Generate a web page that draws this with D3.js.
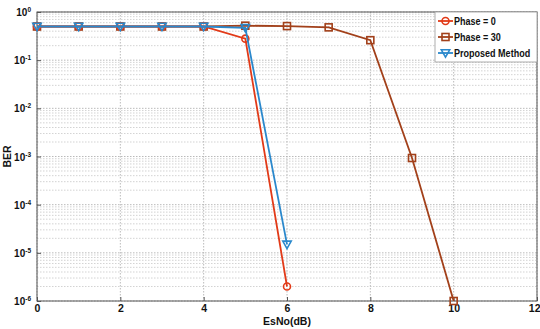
<!DOCTYPE html>
<html>
<head>
<script src="https://d3js.org/d3.v7.min.js"></script>
<style>
  body { margin: 0; background: #fff; }
  text { font-family: "Liberation Sans", Arial, sans-serif; font-weight: bold; }
</style>
</head>
<body>
<div id="chart"></div>
<script>
// data
var xs0 = [0, 1, 2, 3, 4, 5, 6]
var phase0 = [0.5, 0.5, 0.5, 0.5, 0.5, 0.28, 2e-6]
var xs30 = [0, 1, 2, 3, 4, 5, 6, 7, 8, 9, 10]
var phase30 = [0.5, 0.5, 0.5, 0.5, 0.5, 0.52, 0.51, 0.48, 0.26, 9.3e-4, 1e-6]
var xsProp = [0, 1, 2, 3, 4, 5, 6]
var proposed = [0.5, 0.5, 0.5, 0.5, 0.5, 0.47, 1.5e-5]
var xTicks = [0, 2, 4, 6, 8, 10, 12]
var yExps = [0, -1, -2, -3, -4, -5, -6]

var W = 540, H = 329
var margin = {top: 12, right: 3, bottom: 28, left: 37}
var width = W - margin.left - margin.right
var height = H - margin.top - margin.bottom

var svg = d3.select("#chart").append("svg")
  .attr("width", W).attr("height", H)
var g = svg.append("g")
  .attr("transform", "translate(" + margin.left + "," + margin.top + ")")

var x = d3.scaleLinear().domain([0, 12]).range([0, width])
var y = d3.scaleLog().domain([1e-6, 1]).range([height, 0])

// minor grid
var minor = []
for (var e = -6; e < 0; e++) for (var m = 2; m <= 9; m++) minor.push(m * Math.pow(10, e))
g.selectAll(".minor").data(minor).enter().append("line")
  .attr("x1", 0).attr("x2", width)
  .attr("y1", function(d) { return y(d) }).attr("y2", function(d) { return y(d) })
  .attr("stroke", "#c8c8c8").attr("stroke-width", 0.8).attr("stroke-dasharray", "1.5,1.5")

// major grid
g.selectAll(".gy").data(yExps).enter().append("line")
  .attr("x1", 0).attr("x2", width)
  .attr("y1", function(d) { return y(Math.pow(10, d)) }).attr("y2", function(d) { return y(Math.pow(10, d)) })
  .attr("stroke", "#a8a8a8").attr("stroke-width", 0.8).attr("stroke-dasharray", "1.5,1.5")
g.selectAll(".gx").data(xTicks).enter().append("line")
  .attr("x1", function(d) { return x(d) }).attr("x2", function(d) { return x(d) })
  .attr("y1", 0).attr("y2", height)
  .attr("stroke", "#a8a8a8").attr("stroke-width", 0.8).attr("stroke-dasharray", "1.5,1.5")

// frame
g.append("rect").attr("width", width).attr("height", height)
  .attr("fill", "none").attr("stroke", "#555").attr("stroke-width", 1)

// axes
var xAxis = g.append("g").attr("transform", "translate(0," + height + ")")
  .call(d3.axisBottom(x).tickValues(xTicks).tickSize(-4).tickPadding(4))
xAxis.select(".domain").remove()
xAxis.selectAll("text").attr("font-size", 10.5).attr("fill", "#111")
  .attr("font-family", "Liberation Sans, Arial, sans-serif").attr("font-weight", "bold")
// last label sits on the right edge; keep it inside the page
xAxis.selectAll("text").filter(function(d) { return d === 12 }).attr("text-anchor", "end").attr("x", 3)
xAxis.selectAll("line").attr("stroke", "#555")

var yAxis = g.append("g")
  .call(d3.axisLeft(y).tickValues(yExps.map(function(e) { return Math.pow(10, e) })).tickSize(-4).tickFormat(""))
yAxis.select(".domain").remove()
yAxis.selectAll("line").attr("stroke", "#555")
yAxis.selectAll(".tick").each(function(d) {
  var t = d3.select(this).append("text").attr("x", -6).attr("dy", "0.35em")
    .attr("text-anchor", "end").attr("fill", "#111").attr("font-size", 10)
  t.append("tspan").text("10")
  t.append("tspan").attr("font-size", 6.5).attr("dy", "-0.6em").text(Math.round(Math.log10(d)))
})

// axis titles
g.append("text").attr("x", width / 2).attr("y", height + 23.5).attr("text-anchor", "middle")
  .attr("font-size", 10.5).attr("fill", "#111").text("EsNo(dB)")
g.append("text").attr("transform", "translate(-26," + height / 2 + ") rotate(-90)")
  .attr("text-anchor", "middle").attr("font-size", 10.5).attr("fill", "#111").text("BER")

var series = [
  {name: "Phase = 0", xs: xs0, ys: phase0, color: "#e23a18", marker: "circle"},
  {name: "Phase = 30", xs: xs30, ys: phase30, color: "#a2401a", marker: "square"},
  {name: "Proposed Method", xs: xsProp, ys: proposed, color: "#2a88cc", marker: "tri"}
]
var drawOrder = [series[1], series[0], series[2]]

var line = d3.line().x(function(d) { return x(d[0]) }).y(function(d) { return y(d[1]) })

function marker(sel, type, color) {
  if (type === "circle") {
    sel.append("circle").attr("r", 3.5).attr("fill", "none").attr("stroke", color).attr("stroke-width", 1.6)
  } else if (type === "square") {
    sel.append("rect").attr("x", -3.5).attr("y", -3.5).attr("width", 7).attr("height", 7)
      .attr("fill", "none").attr("stroke", color).attr("stroke-width", 1.6)
  } else {
    sel.append("path").attr("d", "M-4.2,-3.2L4.2,-3.2L0,4.2Z")
      .attr("fill", "none").attr("stroke", color).attr("stroke-width", 1.6)
  }
}

drawOrder.forEach(function(s) {
  var pts = s.xs.map(function(v, i) { return [v, s.ys[i]] })
  g.append("path").datum(pts).attr("d", line).attr("fill", "none")
    .attr("stroke", s.color).attr("stroke-width", 1.8)
  g.selectAll(null).data(pts).enter().append("g")
    .attr("transform", function(d) { return "translate(" + x(d[0]) + "," + y(d[1]) + ")" })
    .each(function() { marker(d3.select(this), s.marker, s.color) })
})

// legend
var lg = g.append("g").attr("transform", "translate(" + (width - 102) + ",0)")
lg.append("rect").attr("width", 102).attr("height", 50).attr("fill", "#fff")
  .attr("stroke", "#999").attr("stroke-width", 0.8)
series.forEach(function(s, i) {
  var row = lg.append("g").attr("transform", "translate(0," + (9 + i * 16) + ")")
  row.append("line").attr("x1", 3).attr("x2", 18).attr("stroke", s.color).attr("stroke-width", 1.8)
  marker(row.append("g").attr("transform", "translate(10.5,0)"), s.marker, s.color)
  // the legend type is narrow in the picture, so squeeze it sideways
  row.append("text").attr("transform", "translate(19,0) scale(0.86,1)")
    .attr("dy", "0.35em").attr("font-size", 10.5)
    .attr("fill", "#111").text(s.name)
})
</script>
</body>
</html>
